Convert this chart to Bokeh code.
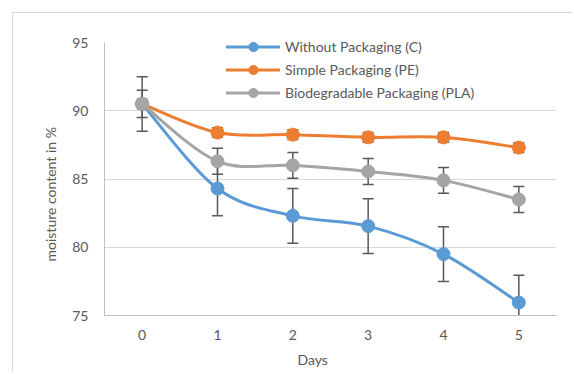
import numpy as np
from bokeh.plotting import figure
from bokeh.models import Legend, LegendItem, FixedTicker, Title
from bokeh.embed import file_html
from bokeh.resources import INLINE

# ---- data ----
days = [0, 1, 2, 3, 4, 5]
without_c = [90.5, 84.3, 82.3, 81.55, 79.5, 75.95]
simple_pe = [90.5, 88.4, 88.25, 88.05, 88.05, 87.3]
bio_pla = [90.5, 86.3, 86.0, 85.55, 84.9, 83.5]
err_c = [2.0, 2.0, 2.0, 2.0, 2.0, 2.0]
err_pe = [0.35, 0.35, 0.35, 0.35, 0.35, 0.35]
err_pla = [1.0, 0.95, 0.95, 0.95, 0.95, 0.95]
series_names = ["Without Packaging (C)", "Simple Packaging (PE)",
                "Biodegradable Packaging (PLA)"]
y_ticks = [75, 80, 85, 90, 95]

colors = ["#5B9BD5", "#ED7D31", "#A5A5A5"]
FONT = "Lato"
TXT = "#595959"


def smooth_segments(x, y):
    """Bezier control points (Catmull-Rom style, like a spreadsheet's smoothed line)."""
    x = np.asarray(x, float)
    y = np.asarray(y, float)
    n = len(x)
    qx = np.concatenate([[x[0]], x, [x[-1]]])
    qy = np.concatenate([[y[0]], y, [y[-1]]])
    cx0 = qx[1:n] + (qx[2:n + 1] - qx[0:n - 1]) / 6.0
    cy0 = qy[1:n] + (qy[2:n + 1] - qy[0:n - 1]) / 6.0
    cx1 = qx[2:n + 1] - (qx[3:n + 2] - qx[1:n]) / 6.0
    cy1 = qy[2:n + 1] - (qy[3:n + 2] - qy[1:n]) / 6.0
    return dict(x0=x[:-1], y0=y[:-1], x1=x[1:], y1=y[1:],
                cx0=cx0, cy0=cy0, cx1=cx1, cy1=cy1)


p = figure(width=560, height=360, x_range=(-0.5, 5.5), y_range=(75, 95),
           output_backend="svg", toolbar_location=None,
           min_border_left=91, min_border_right=17, min_border_top=29,
           min_border_bottom=57)
p.styles = {"margin-left": "12px", "margin-top": "12px",
            "border-left": "1px solid #d9d9d9", "border-top": "1px solid #d9d9d9"}
p.background_fill_color = "white"
p.border_fill_color = "white"
p.outline_line_color = None

items = []
for vals, errs, col, name in zip([without_c, simple_pe, bio_pla],
                                 [err_c, err_pe, err_pla], colors, series_names):
    seg = smooth_segments(days, vals)
    bez = p.bezier(x0=seg["x0"], y0=seg["y0"], x1=seg["x1"], y1=seg["y1"],
                   cx0=seg["cx0"], cy0=seg["cy0"], cx1=seg["cx1"], cy1=seg["cy1"],
                   line_color=col, line_width=3, line_cap="round")
    upper = [v + e for v, e in zip(vals, errs)]
    lower = [v - e for v, e in zip(vals, errs)]
    p.segment(x0=days, y0=lower, x1=days, y1=upper, line_color="#595959", line_width=1.5)
    p.scatter(days, upper, marker="dash", size=11, line_color="#595959", line_width=1.5)
    p.scatter(days, lower, marker="dash", size=11, line_color="#595959", line_width=1.5)
    mk = p.scatter(days, vals, size=13, fill_color=col, line_color=col)
    items.append(LegendItem(label=name, renderers=[bez, mk]))

legend = Legend(items=items, location=(122, 211), padding=0, margin=0,
                spacing=0, glyph_width=54, glyph_height=23, label_height=23,
                label_standoff=5, border_line_color=None, background_fill_alpha=0,
                label_text_font=FONT, label_text_font_size="14px",
                label_text_color=TXT)
p.add_layout(legend)

p.xaxis.ticker = FixedTicker(ticks=days)
p.yaxis.ticker = FixedTicker(ticks=y_ticks)
p.xgrid.visible = False
p.ygrid.grid_line_color = "#d9d9d9"
p.ygrid.grid_line_width = 1

for ax in (p.xaxis[0], p.yaxis[0]):
    ax.major_tick_in = 0
    ax.major_tick_out = 0
    ax.minor_tick_line_color = None
    ax.major_label_text_font = FONT
    ax.major_label_text_font_size = "14px"
    ax.major_label_text_color = TXT
    ax.axis_line_color = "#bfbfbf"
    ax.axis_line_width = 1
p.xaxis.major_label_standoff = 14
p.yaxis.major_label_standoff = 16

ty = Title(text="moisture content in %", align="left", offset=54, standoff=22,
           text_font=FONT, text_font_size="14px", text_font_style="normal",
           text_color=TXT)
p.add_layout(ty, "left")
tx = Title(text="Days", align="left", offset=193, standoff=12,
           text_font=FONT, text_font_size="14px", text_font_style="normal",
           text_color=TXT)
p.add_layout(tx, "below")

open("out.html", "w").write(file_html(p, INLINE))
